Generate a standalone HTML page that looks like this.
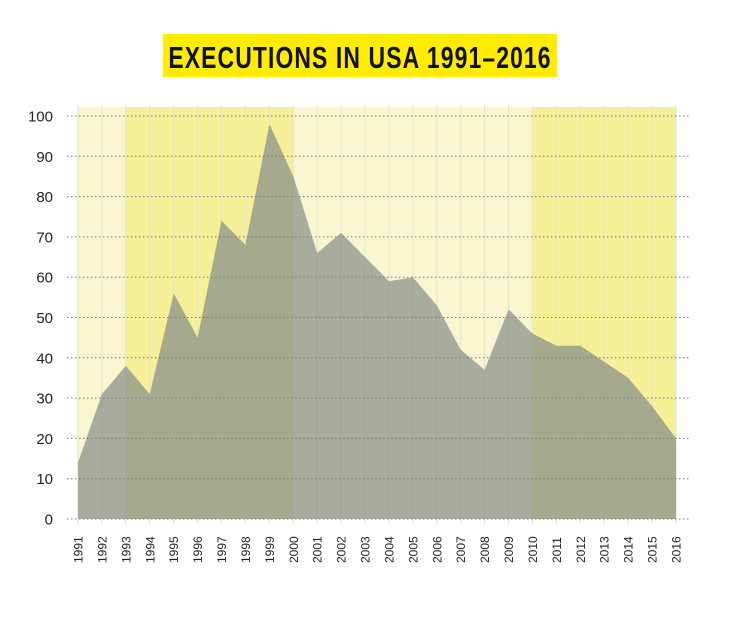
<!DOCTYPE html>
<html><head><meta charset="utf-8"><style>
body{margin:0;background:#fff;}
svg{display:block;font-family:"Liberation Sans",sans-serif;}
</style></head><body>
<svg width="730" height="621" viewBox="0 0 730 621">
<rect x="163" y="34" width="394" height="43" fill="#ffec00"/>
<text x="360" y="68" text-anchor="middle" font-size="31" font-weight="bold" fill="#111" transform="translate(360 0) scale(0.74 1) translate(-360 0)" letter-spacing="1.5">EXECUTIONS IN USA 1991–2016</text>
<rect x="78" y="107" width="48" height="412" fill="#f9f5cf"/>
<rect x="126" y="107" width="167" height="412" fill="#f5ef98"/>
<rect x="293" y="107" width="239" height="412" fill="#f9f5cf"/>
<rect x="532" y="107" width="144" height="412" fill="#f5ef98"/>
<g id="v" stroke="#e6e2cc" stroke-width="1"></g>
<g id="h" stroke="#777" stroke-width="1" stroke-dasharray="1.5,2.5"></g>
<polygon id="area" fill="rgb(123,132,133)" fill-opacity="0.65"/>
<g id="yl" font-size="15" fill="#222" text-anchor="end"></g>
<g id="xl" font-size="12" fill="#222"></g>
</svg>
<script>
var d=[14,31,38,31,56,45,74,68,98,85,66,71,65,59,60,53,42,37,52,46,43,43,39,35,28,20];
var ns="http://www.w3.org/2000/svg";
function X(i){return 78+i*23.92;}function Y(v){return 519-v*4.03;}
var v=document.getElementById('v'),h=document.getElementById('h'),yl=document.getElementById('yl'),xl=document.getElementById('xl');
function el(p,t,a,txt){var e=document.createElementNS(ns,t);for(var k in a)e.setAttribute(k,a[k]);if(txt)e.textContent=txt;p.appendChild(e);}
for(var i=0;i<26;i++){var x=X(i).toFixed(1);el(v,'line',{x1:x,x2:x,y1:105,y2:524});
el(xl,'text',{transform:'translate('+(X(i)+4.5).toFixed(1)+',563) rotate(-90)'},String(1991+i));}
for(var k=0;k<=10;k++){var y=Y(k*10).toFixed(1);el(h,'line',{x1:67,x2:690,y1:y,y2:y});
el(yl,'text',{x:53,y:(Y(k*10)+5.5).toFixed(1)},String(k*10));}
var pts='78,519 ';for(var i=0;i<26;i++)pts+=X(i).toFixed(1)+','+Y(d[i]).toFixed(1)+' ';pts+=X(25).toFixed(1)+',519';
document.getElementById('area').setAttribute('points',pts);
</script>
</body></html>
